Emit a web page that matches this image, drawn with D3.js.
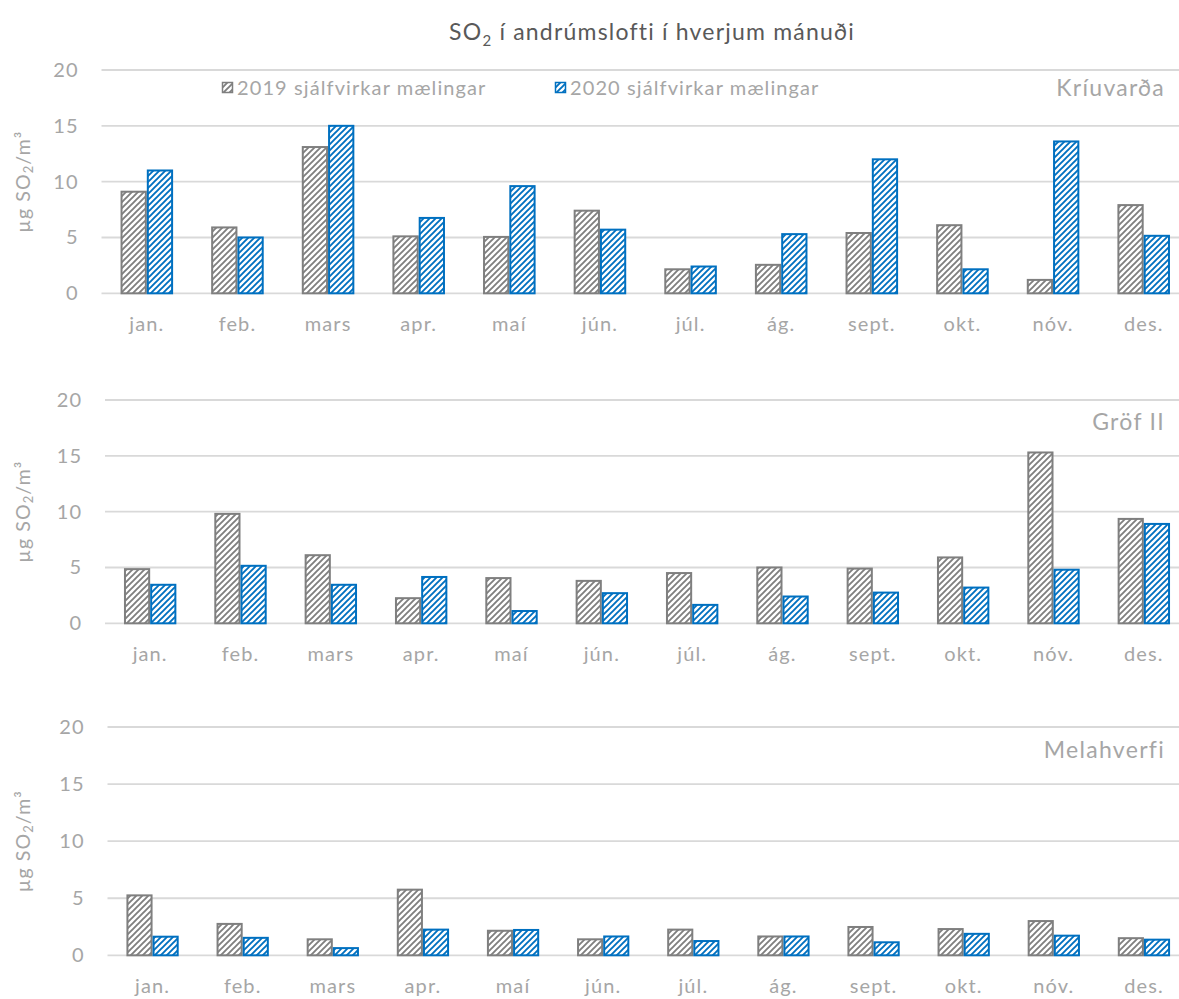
<!DOCTYPE html>
<html><head><meta charset="utf-8">
<script src="https://cdn.jsdelivr.net/npm/d3@7"></script>
<style>body{margin:0;background:#fff}svg{display:block}</style>
</head><body>
<svg id="chart" width="1179" height="999"></svg>
<script>
// ---------- data ----------
const months = ["jan.","feb.","mars","apr.","maí","jún.","júl.","ág.","sept.","okt.","nóv.","des."];
const seriesNames = ["2019 sjálfvirkar mælingar","2020 sjálfvirkar mælingar"];
const stations = ["Kríuvarða","Gröf II","Melahverfi"];
const yTicks = [0,5,10,15,20];

const kriuvarda2019 = [9.1, 5.9, 13.1, 5.1, 5.05, 7.4, 2.15, 2.55, 5.4, 6.1, 1.2, 7.9];
const kriuvarda2020 = [11.0, 5.0, 15.0, 6.75, 9.6, 5.7, 2.4, 5.3, 12.0, 2.15, 13.6, 5.15];
const grof2019 = [4.85, 9.8, 6.1, 2.25, 4.05, 3.8, 4.5, 5.0, 4.9, 5.9, 15.3, 9.35];
const grof2020 = [3.45, 5.15, 3.45, 4.15, 1.1, 2.7, 1.65, 2.4, 2.75, 3.2, 4.8, 8.9];
const mela2019 = [5.25, 2.75, 1.4, 5.75, 2.15, 1.4, 2.25, 1.65, 2.48, 2.3, 3.0, 1.5];
const mela2020 = [1.63, 1.53, 0.63, 2.25, 2.22, 1.65, 1.25, 1.65, 1.14, 1.88, 1.72, 1.37];

const stationSeries = [
  [kriuvarda2019, kriuvarda2020],
  [grof2019, grof2020],
  [mela2019, mela2020]
];

// ---------- layout ----------
const svg = d3.select("#chart");
const font = "Lato, 'Open Sans', sans-serif";
const colors = ["#7f7f7f", "#0070c0"];
const labelGrey = "#a6a6a6";
const panels = [
  {left: 101.5, top: 70, bottom: 293.3, labelDy: 26},
  {left: 105, top: 400, bottom: 623.3, labelDy: 30},
  {left: 107.5, top: 727, bottom: 955.3, labelDy: 31}
];
const plotRight = 1189;

// patterns
const defs = svg.append("defs");
colors.forEach((c, i) => {
  const p = defs.append("pattern")
    .attr("id", "hatch" + i)
    .attr("patternUnits", "userSpaceOnUse")
    .attr("width", 6).attr("height", 6);
  p.append("rect").attr("width", 6).attr("height", 6).attr("fill", "#fff");
  p.append("path")
    .attr("d", "M-1.5,1.5 L1.5,-1.5 M0,6 L6,0 M4.5,7.5 L7.5,4.5")
    .attr("stroke", c).attr("stroke-width", 1.9).attr("stroke-linecap", "square");
});

// title
const title = svg.append("text")
  .attr("x", 652).attr("y", 40)
  .attr("text-anchor", "middle")
  .attr("font-family", font).attr("font-size", 23)
  .attr("letter-spacing", 1.2)
  .attr("fill", "#595959");
title.append("tspan").text("SO");
title.append("tspan").attr("dy", 6).attr("font-size", 15).text("2");
title.append("tspan").attr("dy", -6).text(" í andrúmslofti í hverjum mánuði");

panels.forEach((pn, k) => {
  const g = svg.append("g");
  const x0 = d3.scaleBand().domain(months).range([pn.left, plotRight])
    .paddingInner(0.42).paddingOuter(0.21);
  const x1 = d3.scaleBand().domain([0, 1]).range([0, x0.bandwidth()]);
  const y = d3.scaleLinear().domain([0, 20]).range([pn.bottom, pn.top]);

  // gridlines
  g.append("g").selectAll("line").data(yTicks).join("line")
    .attr("x1", pn.left).attr("x2", plotRight)
    .attr("y1", d => y(d)).attr("y2", d => y(d))
    .attr("stroke", "#d9d9d9").attr("stroke-width", 1.8);

  // y axis labels
  const ya = g.append("g").attr("transform", `translate(${pn.left - 21},0)`)
    .call(d3.axisLeft(y).tickValues(yTicks).tickSize(0).tickPadding(2));
  ya.select(".domain").remove();
  ya.selectAll("text").attr("font-family", font).attr("font-size", 20)
    .attr("letter-spacing", 1).attr("fill", labelGrey);

  // x axis labels
  const xa = g.append("g").attr("transform", `translate(0,${pn.bottom})`)
    .call(d3.axisBottom(x0).tickSize(0).tickPadding(24));
  xa.select(".domain").remove();
  xa.selectAll("text").attr("font-family", font).attr("font-size", 20)
    .attr("letter-spacing", 1.1).attr("fill", labelGrey);

  // bars
  const data = stationSeries[k];
  data.forEach((vals, s) => {
    g.append("g").selectAll("rect").data(vals).join("rect")
      .attr("x", (d, i) => x0(months[i]) + x1(s) + 1)
      .attr("width", x1.bandwidth() - 2)
      .attr("y", d => y(d))
      .attr("height", d => y(0) - y(d))
      .attr("fill", `url(#hatch${s})`)
      .attr("stroke", colors[s]).attr("stroke-width", 2);
  });

  // station label
  g.append("text")
    .attr("x", 1165).attr("y", pn.top + pn.labelDy)
    .attr("text-anchor", "end")
    .attr("font-family", font).attr("font-size", 23)
    .attr("letter-spacing", 1.3)
    .attr("fill", labelGrey).text(stations[k]);

  // y axis title
  const yt = g.append("text")
    .attr("transform", `translate(30,${(pn.top + pn.bottom) / 2}) rotate(-90)`)
    .attr("text-anchor", "middle")
    .attr("font-family", font).attr("font-size", 19.5)
    .attr("letter-spacing", 1.1)
    .attr("fill", labelGrey);
  yt.append("tspan").text("µg SO");
  yt.append("tspan").attr("font-size", 13).attr("dy", 3).text("2");
  yt.append("tspan").attr("dy", -3).text("/m³");
});

// legend
const legendX = [222, 555];
seriesNames.forEach((name, s) => {
  const lg = svg.append("g").attr("transform", `translate(${legendX[s]},82)`);
  lg.append("rect").attr("x", 0.5).attr("y", 0.5).attr("width", 10).attr("height", 10)
    .attr("fill", `url(#hatch${s})`).attr("stroke", colors[s]).attr("stroke-width", 1.5);
  lg.append("text").attr("x", 15).attr("y", 13)
    .attr("font-family", font).attr("font-size", 20)
    .attr("letter-spacing", 1.1)
    .attr("fill", labelGrey).text(name);
});
</script>
</body></html>
